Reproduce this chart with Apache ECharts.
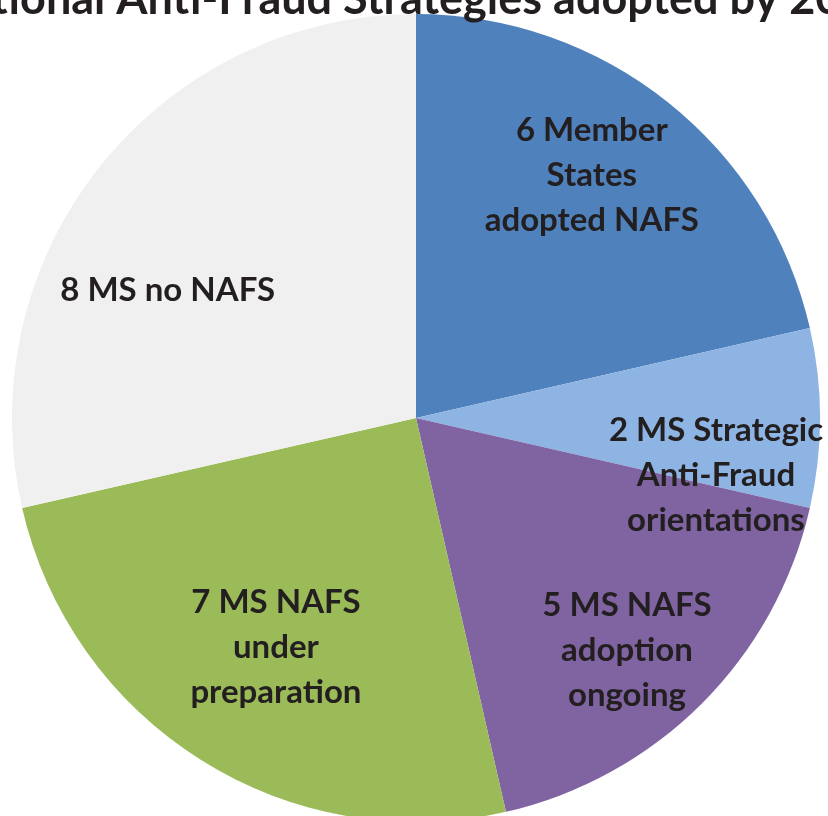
<!DOCTYPE html>
<html>
<head>
<meta charset="utf-8">
<script src="https://cdn.jsdelivr.net/npm/echarts@6/dist/echarts.min.js"></script>
<style>html,body{margin:0;padding:0;background:#fff}#c{width:828px;height:816px}</style>
</head>
<body>
<div id="c"></div>
<script>
var titleText = "National Anti-Fraud Strategies adopted by 2015";
var categories = [
  "6 Member\nStates\nadopted NAFS",
  "2 MS Strategic\nAnti-Fraud\norientations",
  "5 MS NAFS\nadoption\nongoing",
  "7 MS NAFS\nunder\npreparation",
  "8 MS no NAFS"
];
var values = [6, 2, 5, 7, 8];
var colors = ["#4F81BD", "#8EB4E3", "#8064A2", "#9BBB59", "#F0F0F0"];
// label shifts from the default inside position
var labelShift = [[48, -82], [95, 57], [66, 87], [-31, 56], [-88, 0]];

var chart = echarts.init(document.getElementById('c'), null, {renderer: 'canvas'});
chart.setOption({
  animation: false,
  backgroundColor: '#ffffff',
  title: {
    text: titleText,
    left: 'center',
    top: -28,
    textStyle: {fontFamily: 'Lato', fontWeight: 'bold', fontSize: 45, color: '#231F20'}
  },
  series: [{
    type: 'pie',
    center: [416, 418],
    radius: [0, 404],
    startAngle: 90,
    clockwise: true,
    avoidLabelOverlap: false,
    label: {
      show: true,
      position: 'inside',
      fontFamily: 'Lato',
      fontWeight: 'bold',
      fontSize: 33,
      lineHeight: 45,
      color: '#231F20',
      align: 'center'
    },
    labelLine: {show: false},
    labelLayout: function (p) {
      var s = labelShift[p.dataIndex];
      return {dx: s[0], dy: s[1]};
    },
    itemStyle: {borderWidth: 0},
    emphasis: {disabled: true},
    data: categories.map(function (c, i) {
      return {name: c, value: values[i], itemStyle: {color: colors[i]}};
    })
  }]
});
</script>
</body>
</html>
